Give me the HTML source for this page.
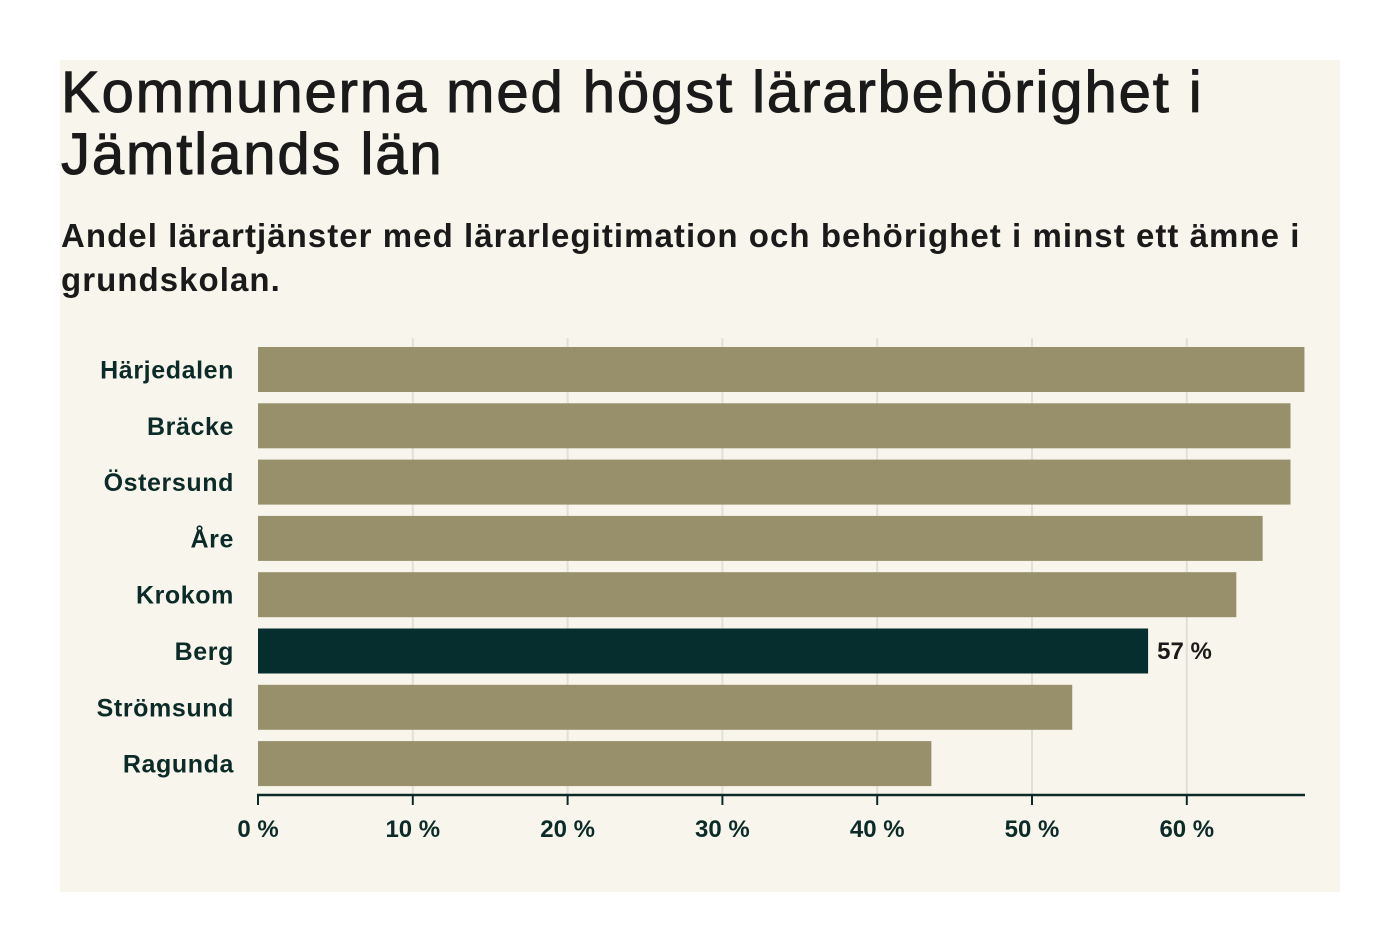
<!DOCTYPE html>
<html><head><meta charset="utf-8"><style>
body{margin:0;background:#fff;width:1400px;height:952px;overflow:hidden;font-family:"Liberation Sans",sans-serif}
#panel{position:absolute;left:60px;top:60px;width:1280px;height:832px;background:#f8f6ec}
h1{position:absolute;left:61px;top:62px;margin:0;font-size:58px;line-height:62px;font-weight:normal;color:#1a1a1a;letter-spacing:1.9px;-webkit-text-stroke:1px #1a1a1a;width:1275px}
h2{position:absolute;left:61px;top:214px;margin:0;font-size:33px;line-height:44px;font-weight:bold;color:#1a1a1a;letter-spacing:1.05px;width:1275px}
svg{position:absolute;left:0;top:0}
</style></head><body>
<div id="panel"></div>
<h1>Kommunerna med högst lärarbehörighet i Jämtlands län</h1>
<h2>Andel lärartjänster med lärarlegitimation och behörighet i minst ett ämne i grundskolan.</h2>
<svg id="chart" width="1400" height="952"></svg>
<script>
const categories=["Härjedalen","Bräcke","Östersund","Åre","Krokom","Berg","Strömsund","Ragunda"];
const values=[67.6,66.7,66.7,64.9,63.2,57.5,52.6,43.5];
const highlight=["Berg"];
const valueLabels=["","","","","","57 %","",""];
const ticks=[0,10,20,30,40,50,60];
const tickLabels=["0 %","10 %","20 %","30 %","40 %","50 %","60 %"];
const NS="http://www.w3.org/2000/svg";
const svg=document.getElementById('chart');
const x=v=>258+v*15.48;
const y=i=>347+i*56.3;
const bh=45;
function mk(t,a){const e=document.createElementNS(NS,t);for(const k in a)e.setAttribute(k,a[k]);svg.appendChild(e);return e;}
ticks.forEach((t,i)=>{
  if(t>0){const g=mk('line',{x1:x(t),x2:x(t),y1:338,y2:795,stroke:'#e2e0d6','stroke-width':2});
  
  }
  const tk=mk('line',{x1:x(t),x2:x(t),y1:795,y2:805,stroke:'#0b2a28','stroke-width':2});
  
  
  const tl=mk('text',{x:x(t),y:837,'text-anchor':'middle','font-size':24,'font-weight':'bold',fill:'#0b2a28','font-family':'Liberation Sans, sans-serif'});
  tl.textContent=tickLabels[i];
  
  
});
categories.forEach((c,i)=>{
  const hl=highlight.includes(c);
  const r=mk('rect',{x:x(0),y:y(i),width:x(values[i])-x(0),height:bh,fill:hl?'#072e2e':'#97906a'});
  
  
  const l=mk('text',{x:234,y:y(i)+bh/2+9,'text-anchor':'end','font-size':25,'font-weight':'bold','letter-spacing':0.6,fill:'#0b2a28','font-family':'Liberation Sans, sans-serif'});
  l.textContent=c;
  
  
  if(valueLabels[i]){const v=mk('text',{x:x(values[i])+9,y:y(i)+bh/2+8,'font-size':24,'font-weight':'bold',fill:'#1a1a1a','font-family':'Liberation Sans, sans-serif'});
  v.textContent=valueLabels[i];
  
  }
});
const ax=mk('line',{x1:257,x2:1305,y1:795,y2:795,stroke:'#0b2a28','stroke-width':2.5});


</script>
</body></html>
